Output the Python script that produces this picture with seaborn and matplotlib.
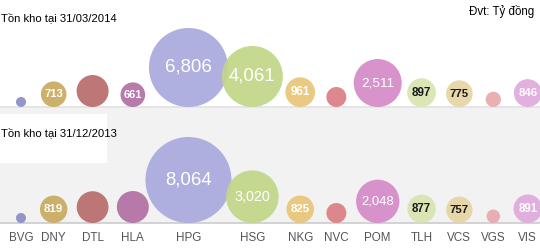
import numpy as np
import pandas as pd
import matplotlib
matplotlib.use("Agg")
import matplotlib.pyplot as plt
import seaborn as sns
from matplotlib.patches import Rectangle
from matplotlib import font_manager

# data (ty dong)
tickers = ["BVG", "DNY", "DTL", "HLA", "HPG", "HSG", "NKG",
           "NVC", "POM", "TLH", "VCS", "VGS", "VIS"]
stock_q1_2014 = [110, 713, 1115, 661, 6806, 4061, 961, 435, 2511, 897, 775, 255, 846]
stock_q4_2013 = [110, 819, 1100, 1115, 8064, 3020, 825, 435, 2048, 877, 757, 200, 891]
# which bubbles carry a number
shown_q1_2014 = [False, True, False, True, True, True, True, False, True, True, True, False, True]
shown_q4_2013 = [False, True, False, False, True, True, True, False, True, True, True, False, True]
title_top = "Tồn kho tại 31/03/2014"
title_bot = "Tồn kho tại 31/12/2013"
unit_note = "Đvt: Tỷ đồng"

colors = {
    "BVG": "#8c8cc8", "DNY": "#c9aa5e", "DTL": "#b86b6b", "HLA": "#b26ea4",
    "HPG": "#aaaade", "HSG": "#c2d688", "NKG": "#e9c679", "NVC": "#dc7e84",
    "POM": "#d58ac8", "TLH": "#d8e3b0", "VCS": "#e8d4a5", "VGS": "#e8a9ae",
    "VIS": "#e0aadd",
}
dark_text = {"TLH", "VCS"}

W, H, DPI = 540, 250, 100
TOP_H = 107          # height of top panel (px)
BOT_Y0, BOT_Y1 = 108, 223
R_MAX = 43.0         # radius of the largest bubble (px)

avail = {f.name for f in font_manager.fontManager.ttflist}
num_font = ["Liberation Sans Narrow", "Liberation Sans"] if "Liberation Sans Narrow" in avail else ["Liberation Sans"]
plt.rcParams["font.family"] = ["Liberation Sans", "DejaVu Sans"]

vmax = max(max(stock_q1_2014), max(stock_q4_2013))
k = R_MAX / np.sqrt(vmax)
r_top = k * np.sqrt(np.array(stock_q1_2014, float))
r_bot = k * np.sqrt(np.array(stock_q4_2013, float))
r_big = np.maximum(r_top, r_bot)

# horizontal layout: spacing grows with neighbouring bubble sizes
xpos = [21.0]
for i in range(1, len(tickers)):
    xpos.append(xpos[-1] + 22.0 + 0.57 * (r_big[i - 1] + r_big[i]))
xpos = np.array(xpos)

smax = (2 * R_MAX * 72.0 / DPI) ** 2

fig = plt.figure(figsize=(W / DPI, H / DPI), dpi=DPI)
ax_top = fig.add_axes([0, 1 - TOP_H / H, 1, TOP_H / H])
ax_bot = fig.add_axes([0, 1 - BOT_Y1 / H, 1, (BOT_Y1 - BOT_Y0) / H])
ax_bot.set_facecolor("#f2f2f2")


def draw_panel(ax, values, radii, shown, top_px):
    df = pd.DataFrame({"ticker": tickers, "value": values, "x": xpos, "y": radii})
    sns.scatterplot(data=df, x="x", y="y", hue="ticker", size="value",
                    palette=colors, sizes=(0, smax), size_norm=(0, vmax),
                    legend=False, linewidth=0, alpha=0.92, ax=ax, zorder=3,
                    clip_on=False)
    for t, v, x, r, s in zip(tickers, values, xpos, radii, shown):
        if not s:
            continue
        fs = np.interp(r, [12, 26, 29, 45], [8, 10, 13.4, 13.4])
        ax.text(x, r, f"{v:,}", ha="center", va="center", fontsize=fs,
                family=num_font, weight="bold" if r < 20 else "normal",
                color="#1a1a1a" if t in dark_text else "white", zorder=4)
    ax.set_xlim(0, W)
    ax.set_ylim(0, top_px)
    ax.set_xlabel("")
    ax.set_ylabel("")
    for side in ["top", "left", "right"]:
        ax.spines[side].set_visible(False)
    ax.set_yticks([])


draw_panel(ax_top, stock_q1_2014, r_top, shown_q1_2014, TOP_H)
draw_panel(ax_bot, stock_q4_2013, r_bot, shown_q4_2013, BOT_Y1 - BOT_Y0)

ax_top.spines["bottom"].set_color("#e0e0e0")
ax_top.spines["bottom"].set_linewidth(1.2)
ax_top.set_xticks([])
ax_top.text(1, TOP_H - 18, title_top, ha="left", va="center", fontsize=8.1, color="black")
ax_top.text(534, TOP_H - 11, unit_note, ha="right", va="center", fontsize=8.3, color="black")

ax_bot.add_patch(Rectangle((0, BOT_Y1 - 163), 107, 49, facecolor="white",
                           edgecolor="none", zorder=1))
ax_bot.text(1, BOT_Y1 - 133, title_bot, ha="left", va="center", fontsize=8.1,
            color="black", zorder=2)
ax_bot.spines["bottom"].set_color("#cccccc")
ax_bot.spines["bottom"].set_linewidth(1.2)
ax_bot.set_xticks(xpos)
ax_bot.set_xticklabels(tickers)
ax_bot.tick_params(axis="x", length=0, pad=6.5, labelsize=8.4, labelcolor="#555555")

fig.savefig("out.png", dpi=DPI)
